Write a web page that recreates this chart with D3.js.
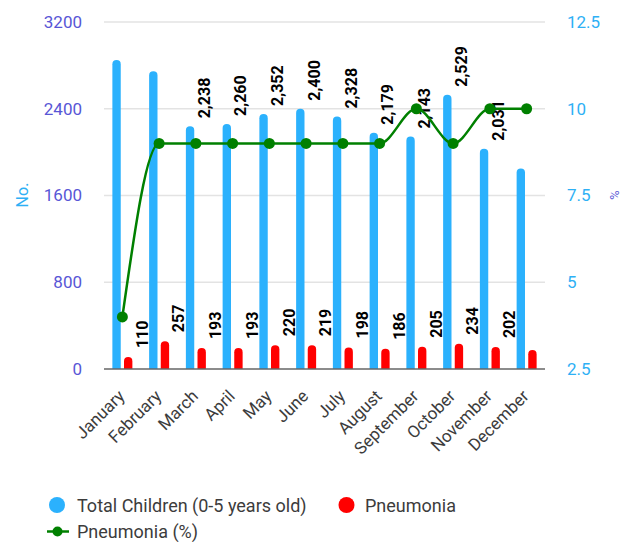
<!DOCTYPE html>
<html>
<head>
<meta charset="utf-8">
<script src="https://cdn.jsdelivr.net/npm/d3@7"></script>
<style>
  html, body { margin: 0; padding: 0; background: #fff; }
  svg { display: block; font-family: Roboto, "Noto Sans", sans-serif; }
</style>
</head>
<body>
<svg id="chart" width="624" height="542"></svg>
<script>
const months = ["January","February","March","April","May","June","July","August","September","October","November","December"];
const totalChildren = [2850, 2745, 2238, 2260, 2352, 2400, 2328, 2179, 2143, 2529, 2031, 1850];
const pneumonia = [110, 257, 193, 193, 220, 219, 198, 186, 205, 234, 202, 175];
const pneumoniaPct = [4, 9, 9, 9, 9, 9, 9, 9, 10, 9, 10, 10];
const showTotalLabel = [false, false, true, true, true, true, true, true, true, true, true, false];
const showPneuLabel = [true, true, true, true, true, true, true, true, true, true, true, false];
const leftTicks = [0, 800, 1600, 2400, 3200];
const rightTicks = [2.5, 5, 7.5, 10, 12.5];
const seriesNames = ["Total Children (0-5 years old)", "Pneumonia", "Pneumonia (%)"];

const C = { blue: "#2bb1fd", red: "#ff0000", green: "#008000", purple: "#5856d6", lblue: "#2eb0f5", grid: "#e3e3e3", axis: "#666", text: "#3c3c3c" };
const svg = d3.select("#chart");
const L = 104, R = 545, T = 22, B = 369;

const x = d3.scaleBand().domain(months).range([L, R]).padding(0);
const sub = d3.scaleBand().domain(["total","pneu"]).range([-10, 10]).paddingInner(0.28);
const yL = d3.scaleLinear().domain([0, 3200]).range([B, T]);
const yR = d3.scaleLinear().domain([2.5, 12.5]).range([B, T]);
const cx = m => x(m) + x.bandwidth() / 2;

// grid
svg.append("g").selectAll("line").data(leftTicks.filter(d => d > 0)).join("line")
  .attr("x1", L).attr("x2", R).attr("y1", d => yL(d)).attr("y2", d => yL(d))
  .attr("stroke", C.grid).attr("stroke-width", 1.5);

// left axis labels
const axL = svg.append("g").attr("transform", `translate(${L},0)`)
  .call(d3.axisLeft(yL).tickValues(leftTicks).tickSize(0).tickPadding(22).tickFormat(d3.format("d")));
axL.select(".domain").remove();
axL.selectAll("text").attr("fill", C.purple).attr("font-size", 17).attr("font-family", "Roboto");

// right axis labels
const axR = svg.append("g").attr("transform", `translate(${R},0)`)
  .call(d3.axisRight(yR).tickValues(rightTicks).tickSize(0).tickPadding(22).tickFormat(d => d));
axR.select(".domain").remove();
axR.selectAll("text").attr("fill", C.lblue).attr("font-size", 17).attr("font-family", "Roboto");

// axis titles
svg.append("text").attr("transform", `translate(22,195) rotate(-90)`).attr("text-anchor", "middle")
  .attr("dominant-baseline", "central").attr("fill", C.lblue).attr("font-size", 16).text("No.");
svg.append("text").attr("transform", `translate(614,195) rotate(90)`).attr("text-anchor", "middle")
  .attr("dominant-baseline", "central").attr("fill", C.purple).attr("font-size", 13).text("%");

// rounded-top bar path
function barPath(x0, w, y0, yb, r) {
  r = Math.min(r, w / 2, (yb - y0));
  return `M${x0},${yb}V${y0 + r}Q${x0},${y0} ${x0 + r},${y0}H${x0 + w - r}Q${x0 + w},${y0} ${x0 + w},${y0 + r}V${yb}Z`;
}

const data = months.map((m, i) => ({ m, total: totalChildren[i], pneu: pneumonia[i], pct: pneumoniaPct[i], st: showTotalLabel[i], sp: showPneuLabel[i] }));

const gBars = svg.append("g");
gBars.selectAll("path.total").data(data).join("path").attr("class", "total")
  .attr("d", d => barPath(cx(d.m) + sub("total"), sub.bandwidth(), yL(d.total), yL(0), 4.2))
  .attr("fill", C.blue);
gBars.selectAll("path.pneu").data(data).join("path").attr("class", "pneu")
  .attr("d", d => barPath(cx(d.m) + sub("pneu"), sub.bandwidth(), yL(d.pneu), yL(0), 4.2))
  .attr("fill", C.red);

// zero line
svg.append("line").attr("x1", L).attr("x2", R).attr("y1", yL(0)).attr("y2", yL(0))
  .attr("stroke", C.axis).attr("stroke-width", 1.5);

// data labels
const fmt = d3.format(",");
const gLab = svg.append("g").attr("font-size", 16).attr("font-weight", 700).attr("fill", "#000");
gLab.selectAll("text.lt").data(data.filter(d => d.st)).join("text").attr("class", "lt")
  .attr("transform", d => `translate(${cx(d.m) + sub("total") + sub.bandwidth() / 2 + 14},${yL(d.total) - 8}) rotate(-90)`)
  .attr("dominant-baseline", "central").text(d => fmt(d.total));
gLab.selectAll("text.lp").data(data.filter(d => d.sp)).join("text").attr("class", "lp")
  .attr("transform", d => `translate(${cx(d.m) + sub("pneu") + sub.bandwidth() / 2 + 14},${yL(d.pneu) - 9}) rotate(-90)`)
  .attr("dominant-baseline", "central").text(d => fmt(d.pneu));

// line
const line = d3.line().x(d => cx(d.m)).y(d => yR(d.pct)).curve(d3.curveMonotoneX);
svg.append("path").datum(data).attr("d", line).attr("fill", "none").attr("stroke", C.green).attr("stroke-width", 2.5);
svg.append("g").selectAll("circle").data(data).join("circle")
  .attr("cx", d => cx(d.m)).attr("cy", d => yR(d.pct)).attr("r", 5.5).attr("fill", C.green);

// x labels
svg.append("g").selectAll("text").data(months).join("text")
  .attr("transform", m => `translate(${cx(m) - 1},${B + 24}) rotate(-45)`)
  .attr("text-anchor", "end").attr("dominant-baseline", "central")
  .attr("font-size", 17).attr("fill", C.text).text(m => m);

// legend
const lg = svg.append("g").attr("font-size", 18).attr("fill", C.text);
lg.append("circle").attr("cx", 57).attr("cy", 505).attr("r", 8).attr("fill", C.blue);
lg.append("text").attr("x", 77).attr("y", 505).attr("dominant-baseline", "central").text(seriesNames[0]);
lg.append("circle").attr("cx", 346.5).attr("cy", 505).attr("r", 8).attr("fill", C.red);
lg.append("text").attr("x", 365).attr("y", 505).attr("dominant-baseline", "central").text(seriesNames[1]);
lg.append("line").attr("x1", 47).attr("x2", 69).attr("y1", 531.5).attr("y2", 531.5).attr("stroke", C.green).attr("stroke-width", 2.5);
lg.append("circle").attr("cx", 57.5).attr("cy", 531.5).attr("r", 5).attr("fill", C.green);
lg.append("text").attr("x", 77).attr("y", 531.5).attr("dominant-baseline", "central").text(seriesNames[2]);
</script>
</body>
</html>
